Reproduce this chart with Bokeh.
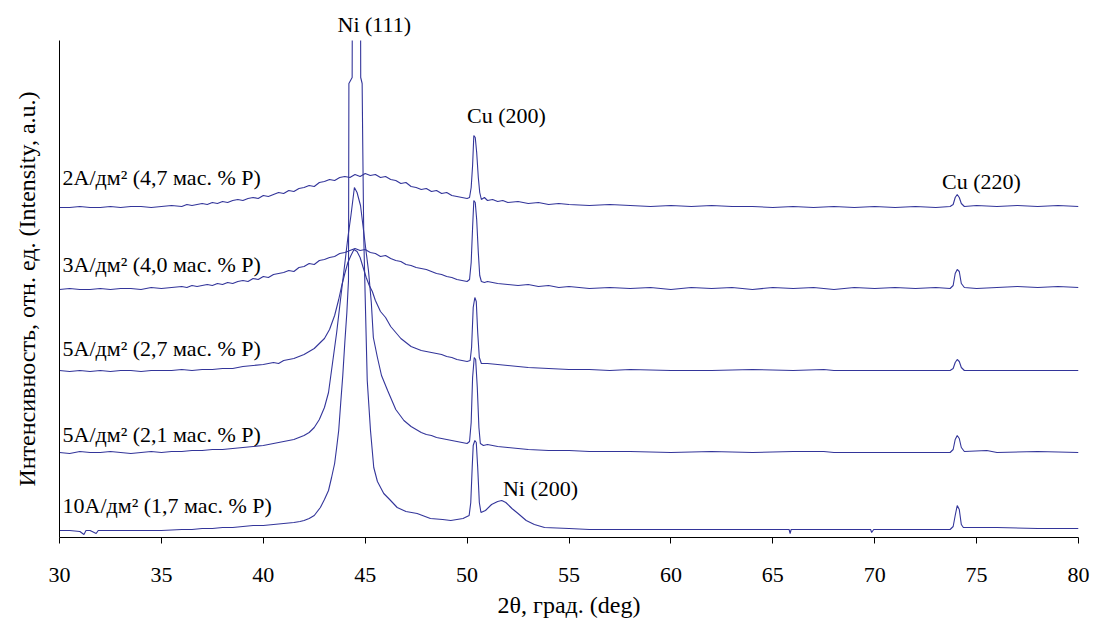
from bokeh.plotting import figure
from bokeh.models import Range1d, FixedTicker, Label, Title
from bokeh.embed import file_html
from bokeh.resources import INLINE

# ---------------- data (y = intensity + vertical offset, a.u.) ----------------
x_2A = [30, 30.5, 31, 31.5, 32, 32.5, 33, 33.5, 34, 34.5, 35, 35.5, 36, 36.25, 36.5, 36.75, 37, 37.25, 37.5, 37.75,
        38, 38.25, 38.5, 38.75, 39, 39.25, 39.5, 39.75, 40, 40.25, 40.5, 40.75, 41, 41.25, 41.5, 41.75, 42, 42.25,
        42.5, 42.75, 43, 43.25, 43.5, 43.75, 44, 44.25, 44.5, 44.75, 45, 45.25, 45.5, 45.75, 46, 46.25, 46.5, 46.75,
        47, 47.25, 47.5, 47.75, 48, 48.25, 48.5, 48.75, 49, 49.25, 49.5, 49.75, 50, 50.12, 50.2, 50.27, 50.33, 50.4,
        50.47, 50.55, 50.62, 50.7, 50.85, 51, 51.25, 51.5, 51.75, 52, 52.5, 53, 53.5, 54, 54.5, 55, 56, 57, 58, 59,
        60, 61, 62, 63, 64, 65, 66, 67, 68, 69, 70, 71, 72, 73, 73.7, 73.85, 73.95, 74.05, 74.15, 74.25, 74.4, 75,
        76, 77, 78, 79, 80]
y_2A = [330, 330, 331, 330, 330, 331, 330, 331, 331, 330, 331, 332, 331, 333, 332, 333, 334, 333, 335, 334,
        336, 335, 337, 338, 337, 339, 340, 339, 342, 341, 343, 345, 344, 347, 346, 349, 350, 352,
        351, 355, 356, 358, 357, 360, 361, 360, 363, 361, 364, 362, 363, 360, 361, 358, 357, 354,
        355, 351, 350, 348, 349, 346, 347, 344, 345, 342, 341, 340, 339, 340, 350, 372, 402, 400,
        385, 360, 345, 338, 340, 337, 338, 336, 337, 335, 336, 334, 335, 333, 334, 333, 332, 333, 332, 331,
        332, 331, 332, 331, 331, 330, 331, 330, 331, 330, 331, 330, 331, 330, 331, 333, 340, 343, 340, 334, 331, 332,
        331, 332, 331, 332, 331]

x_3A = [30, 30.5, 31, 31.5, 32, 32.5, 33, 33.5, 34, 34.5, 35, 35.5, 36, 36.25, 36.5, 36.75, 37, 37.25, 37.5, 37.75,
        38, 38.25, 38.5, 38.75, 39, 39.25, 39.5, 39.75, 40, 40.25, 40.5, 40.75, 41, 41.25, 41.5, 41.75, 42, 42.25,
        42.5, 42.75, 43, 43.25, 43.5, 43.75, 44, 44.25, 44.5, 44.75, 45, 45.25, 45.5, 45.75, 46, 46.25, 46.5, 46.75,
        47, 47.25, 47.5, 47.75, 48, 48.25, 48.5, 48.75, 49, 49.25, 49.5, 49.75, 50, 50.12, 50.2, 50.27, 50.33, 50.4,
        50.47, 50.55, 50.62, 50.7, 50.85, 51, 51.5, 52, 52.5, 53, 53.5, 54, 54.5, 55, 56, 57, 58, 59, 60, 61, 62,
        63, 64, 65, 66, 67, 68, 69, 70, 71, 72, 73, 73.7, 73.85, 73.95, 74.05, 74.15, 74.25, 74.4, 75, 76, 77, 78,
        79, 80]
y_3A = [248, 249, 248, 248, 249, 248, 249, 249, 248, 250, 249, 250, 251, 250, 252, 251, 252, 253, 252, 254,
        253, 255, 254, 256, 257, 256, 259, 258, 261, 260, 263, 264, 265, 267, 266, 270, 271, 274,
        273, 277, 278, 280, 281, 284, 285, 287, 289, 287, 288, 285, 284, 281, 282, 279, 277, 276,
        273, 272, 270, 269, 268, 266, 264, 263, 261, 260, 258, 257, 256, 258, 275, 310, 337, 335,
        318, 285, 262, 256, 255, 256, 254, 253, 252, 253, 251, 252, 250, 251, 249, 250, 249, 250, 248, 250, 249,
        250, 248, 250, 249, 250, 248, 250, 249, 250, 249, 250, 249, 252, 264, 268, 266, 254, 250, 249, 250, 251, 250,
        251, 250]

x_5A27 = [30, 30.5, 31, 31.5, 32, 32.5, 33, 33.5, 34, 34.5, 35, 35.5, 36, 36.5, 37, 37.5, 38, 38.5, 39, 39.5, 40,
          40.5, 40.75, 41, 41.25, 41.5, 41.75, 42, 42.25, 42.5, 42.75, 43, 43.25, 43.5, 43.7, 43.85, 44, 44.15, 44.3,
          44.45, 44.6, 44.75, 44.9, 45.05, 45.2, 45.35, 45.5, 45.75, 46, 46.25, 46.5, 46.75, 47, 47.25, 47.5, 47.75,
          48, 48.25, 48.5, 48.75, 49, 49.25, 49.5, 49.75, 50, 50.15, 50.22, 50.3, 50.38, 50.45, 50.52, 50.6, 50.7,
          51, 51.5, 52, 52.5, 53, 54, 55, 56, 57, 58, 60, 62, 64, 66, 67.5, 68, 70, 72, 73.7, 73.85, 73.95, 74.05,
          74.15, 74.25, 74.4, 76, 78, 80]
y_5A27 = [167, 166, 167, 166, 167, 166, 167, 167, 166, 167, 167, 167, 168, 167, 168, 168, 169, 169, 171, 172, 173,
          175, 174, 177, 178, 179, 181, 183, 186, 189, 194, 199, 208, 222, 238, 252, 264, 275, 282,
          288, 286, 280, 270, 260, 252, 246, 237, 226, 220, 211, 205, 199, 195, 191, 189, 187,
          186, 185, 184, 183, 181, 180, 178, 177, 176, 177, 190, 230, 240, 236, 205, 180, 174,
          174, 173, 172, 171, 170, 169, 168, 168, 167, 168, 167, 167, 168, 167, 168, 167, 167, 167, 167, 169, 175, 178,
          176, 170, 167, 167, 167, 167]

x_5A21 = [30, 30.5, 31, 31.5, 32, 32.5, 33, 33.5, 34, 34.5, 35, 35.5, 36, 36.5, 37, 37.5, 38, 38.5, 39, 39.5, 40,
          40.5, 41, 41.5, 42, 42.25, 42.5, 42.75, 43, 43.2, 43.4, 43.6, 43.8, 44, 44.15, 44.3, 44.47, 44.6, 44.77,
          44.92, 45.05, 45.16, 45.3, 45.4, 45.6, 45.8, 46.1, 46.5, 46.9, 47.25, 47.5, 47.75, 48, 48.25, 48.5, 48.75,
          49, 49.25, 49.5, 49.75, 50, 50.12, 50.2, 50.27, 50.35, 50.42, 50.5, 50.58, 50.65, 50.8, 51, 51.5, 52, 52.5,
          53, 54, 55, 56, 58, 60, 62, 64, 66, 67.5, 68, 70, 72, 73.7, 73.85, 73.95, 74.05, 74.15, 74.25, 74.4, 75.5,
          76, 78, 80]
y_5A21 = [85, 84, 86, 85, 85, 86, 85, 84, 85, 86, 85, 86, 86, 87, 87, 88, 88, 89, 90, 91, 92,
          94, 96, 98, 102, 105, 110, 118, 130, 145, 175, 205, 240, 274, 300, 322, 350, 345, 332,
          307, 285, 267, 235, 200, 180, 162, 147, 128, 117, 111, 108, 105, 103, 102, 100, 99,
          98, 97, 96, 95, 94, 96, 115, 160, 180, 178, 150, 110, 94, 92, 93, 91, 90, 89,
          88, 87, 87, 86, 86, 85, 86, 85, 86, 86, 85, 85, 85, 85, 88, 98, 102, 99, 90, 86, 87,
          85, 86, 85]

x_10A = [30, 30.5, 31, 31.2, 31.3, 31.5, 31.8, 31.9, 32, 33, 34, 35, 36, 36.5, 37, 37.5, 38, 38.5, 39, 39.5, 40,
         40.5, 41, 41.5, 41.8, 42, 42.25, 42.5, 42.8, 43, 43.2, 43.35, 43.5, 43.6, 43.7, 43.8, 43.9, 44, 44.1, 44.18,
         44.2, 44.36, 44.38, 44.76, 44.78, 44.85, 44.88, 44.93, 45, 45.1, 45.26, 45.42, 45.6, 45.91, 46.2, 46.57, 47,
         47.55, 48.2, 48.8, 49.2, 49.8, 50.1, 50.18, 50.25, 50.3, 50.38, 50.45, 50.52, 50.6, 50.68, 50.9, 51.2, 51.5,
         51.7, 51.9, 52.2, 52.5, 52.9, 53.3, 53.8, 55, 56, 58, 60, 62, 64, 65.8, 65.85, 65.9, 68, 69.8, 69.85, 69.95,
         72, 73.7, 73.85, 73.95, 74.05, 74.15, 74.25, 74.35, 76, 78, 80]
y_10A = [7, 7, 6, 3, 7, 7, 4, 7, 7, 7, 7, 7, 8, 8, 9, 9, 10, 10, 11, 12, 12,
         13, 14, 15, 16, 17, 19, 22, 30, 38, 47, 60, 74, 90, 107, 135, 162, 195, 225, 257,
         454, 460, 640, 640, 460, 454, 392, 300, 240, 157, 107, 70, 56, 44, 38, 30, 26,
         24, 19, 18, 17, 19, 22, 35, 70, 92, 97, 95, 70, 35, 25, 27, 33, 36,
         37, 35, 29, 24, 17, 13, 10, 9, 8, 8, 8, 8, 8, 8, 4, 8, 8, 8, 5, 8,
         8, 8, 11, 22, 32, 28, 13, 10, 10, 9, 9]

series_x = [x_2A, x_3A, x_5A27, x_5A21, x_10A]
series_y = [y_2A, y_3A, y_5A27, y_5A21, y_10A]

series_labels = ["2A/дм² (4,7 мас. % P)", "3A/дм² (4,0 мас. % P)", "5A/дм² (2,7 мас. % P)",
                 "5A/дм² (2,1 мас. % P)", "10A/дм² (1,7 мас. % P)"]
label_y = [360, 273, 189, 103, 32]

peak_labels = ["Cu (200)", "Cu (220)", "Ni (200)"]
peak_x = [51.93, 75.24, 53.6]
peak_y = [422, 356, 49]
top_peak_label = "Ni (111)"

x_ticks = [30, 35, 40, 45, 50, 55, 60, 65, 70, 75, 80]

# ---------------- figure ----------------
FONT = '"Liberation Serif", "Times New Roman", serif'
LINE = "#33359a"

p = figure(width=1094, height=626, x_range=Range1d(30, 80), y_range=Range1d(0, 497),
           output_backend="svg", toolbar_location=None,
           min_border_left=59, min_border_right=16, min_border_top=40, min_border_bottom=89)
p.outline_line_color = None
p.xgrid.visible = False
p.ygrid.visible = False
p.background_fill_color = "white"
p.border_fill_color = "white"

for xs, ys in zip(series_x, series_y):
    p.line(xs, ys, line_color=LINE, line_width=1.1)

for txt, yy in zip(series_labels, label_y):
    p.add_layout(Label(x=30.15, y=yy, text=txt, text_font=FONT, text_font_size="22px",
                       text_color="black", text_baseline="middle", text_align="left"))

for txt, xx, yy in zip(peak_labels, peak_x, peak_y):
    p.add_layout(Label(x=xx, y=yy, text=txt, text_font=FONT, text_font_size="22px",
                       text_color="black", text_baseline="middle", text_align="center"))

p.add_layout(Title(text=top_peak_label, align="left", offset=278, standoff=7,
                   text_font=FONT, text_font_size="22px", text_font_style="normal",
                   text_color="black"), "above")

# x axis
p.xaxis.ticker = FixedTicker(ticks=x_ticks)
p.xaxis.minor_tick_line_color = None
p.xaxis.major_tick_in = 0
p.xaxis.major_tick_out = 6
p.xaxis.major_label_standoff = 24
p.xaxis.major_label_text_font = FONT
p.xaxis.major_label_text_font_size = "22px"
p.xaxis.major_label_text_color = "black"
p.xaxis.axis_line_color = "black"
p.xaxis.major_tick_line_color = "black"
p.xaxis.axis_label = "2θ, град. (deg)"
p.xaxis.axis_label_text_font = FONT
p.xaxis.axis_label_text_font_size = "24px"
p.xaxis.axis_label_text_font_style = "normal"
p.xaxis.axis_label_text_color = "black"
p.xaxis.axis_label_standoff = 7

# y axis (no ticks)
p.yaxis.ticker = FixedTicker(ticks=[])
p.yaxis.minor_tick_line_color = None
p.yaxis.major_tick_line_color = None
p.yaxis.major_label_text_font_size = "0px"
p.yaxis.axis_line_color = "black"
p.yaxis.axis_label = "Интенсивность, отн. ед. (Intensity, a.u.)"
p.yaxis.axis_label_text_font = FONT
p.yaxis.axis_label_text_font_size = "24px"
p.yaxis.axis_label_text_font_style = "normal"
p.yaxis.axis_label_text_color = "black"
p.yaxis.axis_label_standoff = 20

open("out.html", "w").write(file_html(p, INLINE))
